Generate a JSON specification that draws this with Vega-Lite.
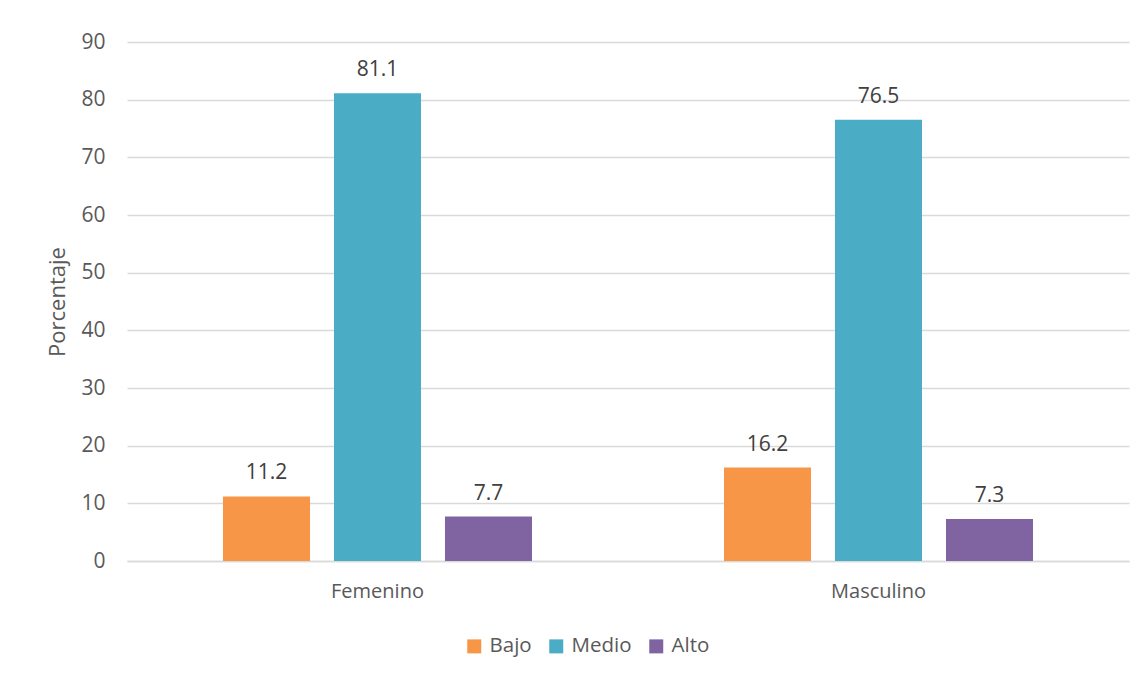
{
  "$schema": "https://vega.github.io/schema/vega-lite/v6.json",
  "width": 1002,
  "height": 519,
  "autosize": {"type": "none"},
  "padding": {"left": 127, "top": 42, "right": 17, "bottom": 118},
  "background": "white",
  "config": {
    "font": "Open Sans",
    "view": {"stroke": null},
    "axis": {"labelColor": "#595959", "titleColor": "#595959", "labelFont": "Open Sans", "titleFont": "Open Sans"}
  },
  "data": {
    "values": [
      {"sexo": "Femenino", "nivel": "Bajo", "pct": 11.2},
      {"sexo": "Femenino", "nivel": "Medio", "pct": 81.1},
      {"sexo": "Femenino", "nivel": "Alto", "pct": 7.7},
      {"sexo": "Masculino", "nivel": "Bajo", "pct": 16.2},
      {"sexo": "Masculino", "nivel": "Medio", "pct": 76.5},
      {"sexo": "Masculino", "nivel": "Alto", "pct": 7.3}
    ]
  },
  "encoding": {
    "x": {
      "field": "sexo", "type": "nominal", "sort": ["Femenino", "Masculino"],
      "scale": {"paddingInner": 0, "paddingOuter": 0},
      "axis": {"title": null, "labelAngle": 0, "labelFontSize": 20, "labelPadding": 20, "ticks": false, "domainColor": "#D9D9D9", "domainWidth": 1.5}
    },
    "xOffset": {
      "field": "nivel", "type": "nominal", "sort": ["Bajo", "Medio", "Alto"],
      "scale": {"paddingInner": 0.216, "paddingOuter": 0.865}
    },
    "y": {
      "field": "pct", "type": "quantitative",
      "scale": {"domain": [0, 90], "nice": false},
      "axis": {"title": "Porcentaje", "titleFontSize": 22, "titleFontWeight": "normal", "titlePadding": 11, "labelFontSize": 21, "labelPadding": 22, "labelOverlap": false, "values": [0, 10, 20, 30, 40, 50, 60, 70, 80, 90], "ticks": false, "domain": false, "gridColor": "#D9D9D9", "gridWidth": 1.5}
    }
  },
  "layer": [
    {
      "mark": {"type": "bar"},
      "encoding": {
        "color": {
          "field": "nivel", "type": "nominal", "sort": ["Bajo", "Medio", "Alto"],
          "scale": {"domain": ["Bajo", "Medio", "Alto"], "range": ["#F79646", "#4BACC6", "#8064A2"]},
          "legend": {"title": null, "orient": "none", "direction": "horizontal", "legendX": 337, "legendY": 594, "symbolType": "square", "symbolSize": 196, "symbolStrokeWidth": 0, "labelFontSize": 20.5, "labelColor": "#595959", "labelFont": "Open Sans", "columnPadding": 14, "labelOffset": 5}
        }
      }
    },
    {
      "mark": {"type": "text", "baseline": "alphabetic", "dy": -17, "fontSize": 21, "color": "#404040"},
      "encoding": {"text": {"field": "pct", "type": "quantitative", "format": ".1f"}}
    }
  ]
}
